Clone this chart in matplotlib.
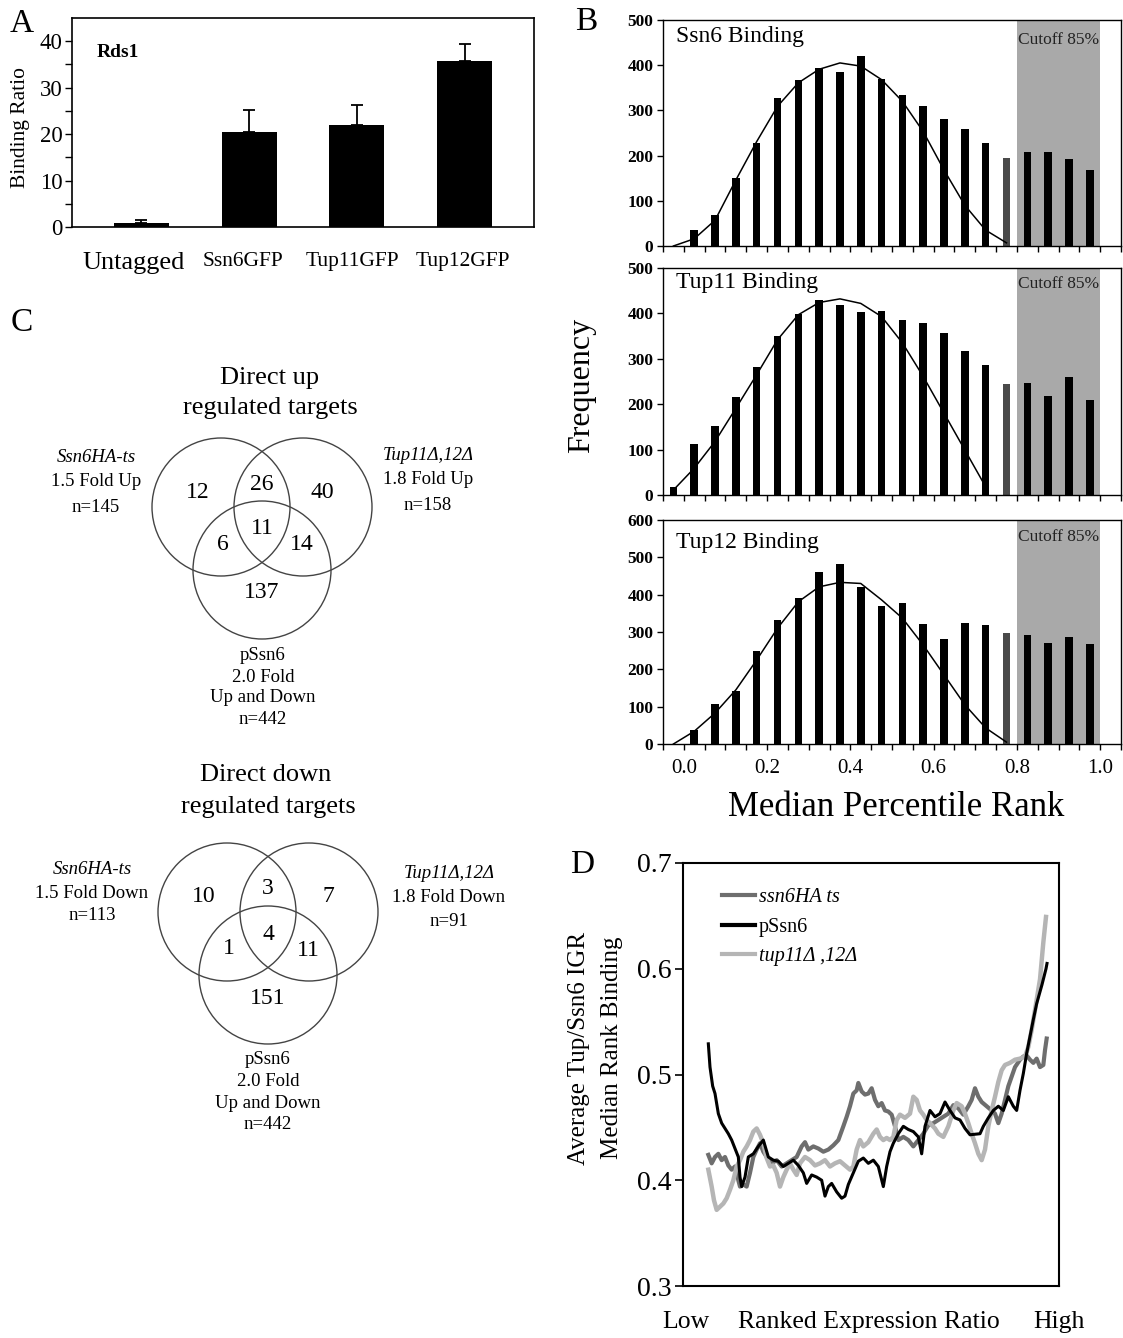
#!/usr/bin/env python3
# -*- coding: utf-8 -*-
"""
Tup/Ssn6 binding figure: ChIP ratio (A), binding histograms (B),
Venn diagrams of direct targets (C) and ranked binding traces (D).
Saves out.png (1123x1338).
"""
import numpy as np
import matplotlib
matplotlib.use("Agg")
import matplotlib.pyplot as plt
import matplotlib.transforms as mtransforms
from matplotlib.patches import Circle
from matplotlib.lines import Line2D

plt.rcParams["font.family"] = ["Liberation Serif", "DejaVu Serif"]

W, H = 1123, 1338

# ---- A: Rds1 binding ratio
strains = ["Untagged", "Ssn6GFP", "Tup11GFP", "Tup12GFP"]
binding_ratio = [0.8, 20.5, 22.0, 35.8]
binding_err = [0.6, 4.7, 4.2, 3.6]

# ---- B: histograms of median percentile rank (bin upper edges)
bin_upper = [0.0, 0.05, 0.1, 0.15, 0.2, 0.25, 0.3, 0.35, 0.4, 0.45, 0.5,
             0.55, 0.6, 0.65, 0.7, 0.75, 0.8, 0.85, 0.9, 0.95, 1.0]
ssn6_freq = [0, 36, 68, 151, 227, 327, 368, 393, 384, 421, 370,
             335, 309, 281, 258, 227, 194, 207, 207, 193, 168]
tup11_freq = [18, 112, 151, 215, 282, 351, 399, 430, 418, 404, 406,
              385, 378, 357, 318, 286, 245, 247, 217, 260, 209]
tup12_freq = [0, 38, 108, 143, 249, 333, 390, 460, 481, 420, 370,
              377, 321, 280, 323, 319, 296, 291, 271, 287, 267]
# fitted curves, one value per bin from the first bin on
ssn6_fit = [0, 16, 57, 146, 231, 309, 361, 391, 405, 398, 368, 320, 253, 168, 90, 35, 7]
tup11_fit = [11, 59, 118, 191, 265, 342, 397, 424, 432, 422, 393, 335, 261, 180, 99, 18]
tup12_fit = [0, 34, 83, 145, 225, 310, 381, 421, 433, 430, 386, 337, 265, 185, 105, 43, 5]
cutoff_lo, cutoff_hi = 0.8, 1.0

# ---- C: Venn counts (A only, A&B, B only, all, A&C, B&C, C only)
up_counts = [12, 26, 40, 11, 6, 14, 137]
down_counts = [10, 3, 7, 4, 1, 11, 151]

# ---- D: running average binding along ranked expression ratio
ssn6ha_rank = [55, 65, 75, 85, 95, 105, 115, 125, 135, 145, 150, 160, 170, 180, 190,
               200, 210, 220, 230, 245, 260, 275, 290, 305, 320, 335, 345, 355, 370, 385,
               400, 415, 430, 445, 460, 470, 480, 490, 500, 505, 515, 525, 535, 545, 555,
               565, 575, 585, 595, 605, 615, 625, 640, 655, 670, 685, 700, 715, 730, 745,
               760, 775, 790, 805, 820, 835, 845, 855, 865, 875, 890, 905, 915, 925, 935,
               945, 955, 965, 975, 990, 1000, 1010, 1020, 1030, 1040, 1050, 1060, 1065, 1070]
ssn6ha_val = [0.424, 0.416, 0.422, 0.425, 0.419, 0.422, 0.414, 0.410, 0.413, 0.400,
              0.394, 0.396, 0.394, 0.407, 0.422, 0.429, 0.435, 0.427, 0.422, 0.416,
              0.419, 0.413, 0.416, 0.419, 0.422, 0.432, 0.436, 0.429, 0.432, 0.430,
              0.427, 0.429, 0.433, 0.438, 0.451, 0.460, 0.470, 0.482, 0.485, 0.492,
              0.484, 0.481, 0.482, 0.487, 0.476, 0.470, 0.473, 0.466, 0.465, 0.462,
              0.451, 0.438, 0.441, 0.438, 0.432, 0.438, 0.444, 0.452, 0.454, 0.457,
              0.460, 0.463, 0.471, 0.468, 0.462, 0.470, 0.476, 0.487, 0.479, 0.474,
              0.470, 0.466, 0.463, 0.454, 0.463, 0.476, 0.489, 0.498, 0.507, 0.514,
              0.517, 0.518, 0.514, 0.511, 0.515, 0.507, 0.509, 0.523, 0.534]
pssn6_rank = [55, 60, 68, 75, 85, 95, 105, 115, 125, 135, 145, 150, 155, 165, 175,
              190, 205, 220, 235, 250, 265, 280, 295, 310, 325, 340, 350, 365, 380, 395,
              405, 415, 425, 440, 455, 465, 475, 490, 505, 520, 535, 550, 565, 580, 590,
              600, 610, 625, 640, 655, 670, 685, 695, 705, 720, 735, 750, 765, 780, 795,
              810, 825, 840, 870, 880, 895, 910, 925, 940, 955, 970, 980, 990, 1000, 1010,
              1020, 1030, 1040, 1056, 1068, 1071]
pssn6_val = [0.529, 0.507, 0.489, 0.482, 0.463, 0.454, 0.449, 0.444, 0.438, 0.430,
             0.422, 0.403, 0.394, 0.403, 0.422, 0.425, 0.432, 0.438, 0.422, 0.419,
             0.418, 0.413, 0.416, 0.419, 0.414, 0.407, 0.397, 0.405, 0.403, 0.400,
             0.385, 0.394, 0.397, 0.389, 0.383, 0.385, 0.396, 0.407, 0.418, 0.421,
             0.416, 0.419, 0.413, 0.394, 0.413, 0.427, 0.435, 0.444, 0.451, 0.448,
             0.446, 0.441, 0.425, 0.451, 0.466, 0.460, 0.463, 0.474, 0.466, 0.459,
             0.457, 0.449, 0.443, 0.444, 0.451, 0.459, 0.466, 0.470, 0.466, 0.479,
             0.470, 0.466, 0.485, 0.501, 0.520, 0.536, 0.552, 0.567, 0.585, 0.600, 0.605]
tup_rank = [55, 65, 72, 80, 90, 100, 110, 120, 130, 140, 150, 160, 170, 180, 190,
            200, 210, 220, 230, 240, 250, 260, 270, 280, 290, 300, 310, 320, 330, 345,
            360, 375, 390, 405, 420, 435, 450, 465, 480, 490, 500, 510, 520, 535, 550,
            560, 570, 580, 590, 600, 610, 620, 630, 645, 660, 670, 680, 690, 700, 710,
            720, 735, 745, 760, 775, 790, 800, 815, 825, 835, 845, 855, 865, 875, 885,
            895, 905, 915, 925, 935, 945, 960, 975, 990, 1005, 1015, 1025, 1035, 1050, 1060, 1068]
tup_val = [0.410, 0.394, 0.381, 0.372, 0.375, 0.378, 0.383, 0.391, 0.400, 0.413,
           0.419, 0.427, 0.432, 0.438, 0.446, 0.449, 0.443, 0.435, 0.421, 0.413,
           0.414, 0.407, 0.394, 0.403, 0.410, 0.416, 0.410, 0.405, 0.416, 0.422,
           0.419, 0.414, 0.416, 0.419, 0.413, 0.416, 0.418, 0.414, 0.410, 0.413,
           0.429, 0.438, 0.432, 0.436, 0.444, 0.448, 0.441, 0.438, 0.440, 0.438,
           0.441, 0.457, 0.462, 0.459, 0.463, 0.479, 0.476, 0.466, 0.462, 0.457,
           0.454, 0.449, 0.444, 0.441, 0.451, 0.466, 0.473, 0.470, 0.463, 0.454,
           0.444, 0.435, 0.425, 0.419, 0.429, 0.451, 0.466, 0.479, 0.493, 0.504,
           0.509, 0.511, 0.514, 0.515, 0.517, 0.526, 0.542, 0.561, 0.590, 0.625, 0.649]


fig = plt.figure(figsize=(W / 100, H / 100), dpi=100)

# full-figure canvas in pixel units, for panel letters, Venns and free labels
canvas = fig.add_axes([0, 0, 1, 1])
canvas.set_xlim(0, W)
canvas.set_ylim(H, 0)
canvas.axis("off")


def px_axes(left, top, right, bottom):
    """Axes placed by pixel box (top-left origin)"""
    return fig.add_axes([left / W, 1 - bottom / H, (right - left) / W, (bottom - top) / H])


def txt(x, y, s, size, **kw):
    canvas.text(x, y, s, fontsize=size, ha=kw.pop("ha", "center"),
                va=kw.pop("va", "center"), **kw)


for letter, (lx, ly) in zip("ABCD", [(22, 24), (586, 22), (22, 323), (582, 865)]):
    txt(lx, ly, letter, 24)

# ---------------- A
axA = px_axes(72, 18, 534, 227)
xa = np.arange(len(strains))
axA.bar(xa, binding_ratio, width=0.51, color="black", zorder=2)
axA.errorbar(xa, binding_ratio, yerr=[np.zeros(len(xa)), binding_err], fmt="none",
             ecolor="black", elinewidth=1.3, capsize=4, capthick=1.3, zorder=3)
axA.set_xlim(-0.64, 3.64)
axA.set_ylim(0, 45)
axA.set_yticks([0, 10, 20, 30, 40])
axA.set_yticks([5, 15, 25, 35], minor=True)
axA.tick_params(axis="y", which="both", direction="out", length=5, width=1,
                labelsize=16.5, pad=2)
axA.set_xticks(xa)
axA.set_xticklabels(strains)
axA.tick_params(axis="x", length=0, pad=18)
# labels in the original sit a little left of the bar centres
for lab, fs, dx in zip(axA.get_xticklabels(), [19, 15.5, 15.5, 15.5], [-7, -6, -5, -2]):
    lab.set_fontsize(fs)
    lab.set_transform(lab.get_transform() +
                      mtransforms.ScaledTranslation(dx / 100, 0, fig.dpi_scale_trans))
for sp in axA.spines.values():
    sp.set_linewidth(1.2)
axA.text(0.054, 0.837, "Rds1", transform=axA.transAxes, fontsize=14,
         fontweight="bold", va="center")
txt(21, 128, "Binding Ratio", 15.5, rotation=90)

# ---------------- B
centers = np.array(bin_upper) - 0.025
bar_colors = ["#4a4a4a" if b == cutoff_lo else "black" for b in bin_upper]
hist_panels = [
    ("Ssn6 Binding", ssn6_freq, ssn6_fit, 500, (663, 20, 1121, 246), 0.925, 0.91),
    ("Tup11 Binding", tup11_freq, tup11_fit, 500, (663, 268, 1121, 495), 0.935, 0.93),
    ("Tup12 Binding", tup12_freq, tup12_fit, 600, (663, 520, 1121, 744), 0.90, 0.925),
]
for i, (name, freq, fit, ymax, box, ty, cy) in enumerate(hist_panels):
    ax = px_axes(*box)
    ax.axvspan(cutoff_lo, cutoff_hi, color="#a9a9a9", lw=0, zorder=0)
    ax.bar(centers, freq, width=0.018, color=bar_colors, zorder=2)
    ax.plot(centers[:len(fit)], fit, color="black", lw=1.1, zorder=3)
    ax.set_xlim(-0.05, 1.05)
    ax.set_ylim(0, ymax)
    ax.set_yticks(range(0, ymax + 1, 100))
    ax.tick_params(axis="y", direction="out", length=4, width=1, labelsize=12.5, pad=3)
    for lab in ax.get_yticklabels():
        lab.set_fontweight("bold")
    ax.set_xticks([0.0, 0.2, 0.4, 0.6, 0.8, 1.0])
    ax.set_xticks(np.arange(-0.05, 1.06, 0.05), minor=True)
    ax.tick_params(axis="x", which="both", direction="out", length=4, width=1,
                   labelsize=15, pad=7, labelbottom=(i == 2))
    if i == 2:
        ax.set_xticklabels(["0.0", "0.2", "0.4", "0.6", "0.8", "1.0"])
    for sp in ax.spines.values():
        sp.set_linewidth(1.0)
    ax.text(0.028, ty, name, transform=ax.transAxes, fontsize=17, va="center")
    ax.text((cutoff_lo + cutoff_hi) / 2, cy, "Cutoff 85%", transform=ax.get_xaxis_transform(),
            fontsize=12.5, ha="center", va="center", color="#222222")
txt(582, 385, "Frequency", 23, rotation=90)
txt(896, 807, "Median Percentile Rank", 25)


# ---------------- C
def draw_venn(center, counts, r=69):
    cx, cy = center
    circles = [(cx - 41, cy), (cx + 41, cy), (cx, cy + 63)]
    for (x0, y0) in circles:
        canvas.add_patch(Circle((x0, y0), r, fill=False, ec="#444444", lw=1.0))
    offsets = [(-64, -15), (0, -23), (60, -15), (0, 22), (-39, 37), (40, 38), (0, 86)]
    for (dx, dy), n in zip(offsets, counts):
        txt(cx + dx, cy + dy, str(n), 17)


draw_venn((262, 507), up_counts)
txt(270, 378, "Direct up", 19)
txt(270, 408, "regulated targets", 19)
txt(96, 457, "Ssn6HA-ts", 13.5, style="italic")
txt(96, 482, "1.5 Fold Up", 13.5)
txt(96, 507, "n=145", 13.5)
txt(428, 455, "Tup11Δ,12Δ", 13.5, style="italic")
txt(428, 480, "1.8 Fold Up", 13.5)
txt(428, 505, "n=158", 13.5)
for k, s in enumerate(["pSsn6", "2.0 Fold", "Up and Down", "n=442"]):
    txt(263, 656 + 21 * k, s, 13.5)

draw_venn((268, 912), down_counts)
txt(266, 775, "Direct down", 19)
txt(268, 807, "regulated targets", 19)
txt(92, 869, "Ssn6HA-ts", 13.5, style="italic")
txt(92, 893, "1.5 Fold Down", 13.5)
txt(92, 916, "n=113", 13.5)
txt(449, 873, "Tup11Δ,12Δ", 13.5, style="italic")
txt(449, 897, "1.8 Fold Down", 13.5)
txt(449, 921, "n=91", 13.5)
for k, s in enumerate(["pSsn6", "2.0 Fold", "Up and Down", "n=442"]):
    txt(268, 1060 + 21.5 * k, s, 13.5)

# ---------------- D
axD = px_axes(683, 863, 1059, 1286)
c_ssn6ha, c_pssn6, c_tup = "#6e6e6e", "black", "#b5b5b5"
axD.plot(ssn6ha_rank, ssn6ha_val, color=c_ssn6ha, lw=3.0, solid_joinstyle="round")
axD.plot(tup_rank, tup_val, color=c_tup, lw=3.2, solid_joinstyle="round")
axD.plot(pssn6_rank, pssn6_val, color=c_pssn6, lw=2.2, solid_joinstyle="round")
axD.set_xlim(-21, 1107)
axD.set_ylim(0.3, 0.7)
axD.set_xticks([])
axD.set_yticks([0.3, 0.4, 0.5, 0.6, 0.7])
axD.set_yticklabels(["0.3", "0.4", "0.5", "0.6", "0.7"])
axD.tick_params(axis="y", direction="out", length=6, width=1.2, labelsize=20, pad=2)
for sp in axD.spines.values():
    sp.set_linewidth(1.5)
handles = [Line2D([], [], color=c, lw=3) for c in (c_ssn6ha, c_pssn6, c_tup)]
leg = axD.legend(handles, ["ssn6HA ts", "pSsn6", "tup11Δ ,12Δ"], loc="upper left",
                 bbox_to_anchor=(0.105, 0.94), frameon=False, fontsize=14.5,
                 handlelength=1.6, handletextpad=0.2, labelspacing=0.5,
                 borderpad=0, borderaxespad=0)
for t, st in zip(leg.get_texts(), ["italic", "normal", "italic"]):
    t.set_style(st)
txt(579, 1048, "Average Tup/Ssn6 IGR", 18, rotation=90)
txt(612, 1048, "Median Rank Binding", 18, rotation=90)
txt(686, 1322, "Low", 18.5)
txt(869, 1322, "Ranked Expression Ratio", 18.5)
txt(1059, 1322, "High", 18.5)

fig.savefig("out.png", dpi=100)
